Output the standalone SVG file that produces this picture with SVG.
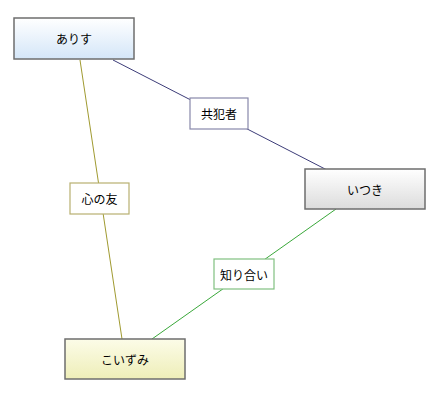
<svg xmlns="http://www.w3.org/2000/svg" width="445" height="412" viewBox="0 0 445 412">
<defs>
<linearGradient id="gBlue" x1="0" y1="0" x2="0" y2="1"><stop offset="0" stop-color="#ffffff"/><stop offset="1" stop-color="#d4e6f8"/></linearGradient>
<linearGradient id="gGrey" x1="0" y1="0" x2="0" y2="1"><stop offset="0" stop-color="#ffffff"/><stop offset="1" stop-color="#dcdcdc"/></linearGradient>
<linearGradient id="gYellow" x1="0" y1="0" x2="0" y2="1"><stop offset="0" stop-color="#fcfce8"/><stop offset="1" stop-color="#eeeeb8"/></linearGradient>
</defs>
<style>
.node{stroke:#6e6e6e;stroke-width:1.5}
.lbl{fill:#ffffff;stroke-width:1.2}
text{font-family:"Noto Sans CJK JP","Noto Sans",sans-serif;font-size:12px;fill:#000;text-anchor:middle;dominant-baseline:central}
</style>
<rect width="445" height="412" fill="#ffffff"/>
<g id="connectors" fill="none" stroke-width="1">
<line x1="113" y1="60" x2="327" y2="170" stroke="#3c3c78"/>
<line x1="80" y1="60" x2="122" y2="339" stroke="#a09a30"/>
<line x1="336" y1="209" x2="152" y2="339" stroke="#3aa83a"/>
</g>
<g id="label-kyohansha"><rect class="lbl" x="190" y="98" width="58" height="31" stroke="#8888aa"/><text x="219" y="113.5">共犯者</text></g>
<g id="label-kokoronotomo"><rect class="lbl" x="70" y="183" width="59" height="31" stroke="#b8b070"/><text x="99.5" y="198.5">心の友</text></g>
<g id="label-shiriai"><rect class="lbl" x="214" y="259" width="60" height="30" stroke="#80c080"/><text x="244" y="274">知り合い</text></g>
<g id="node-arisu"><rect class="node" x="14" y="18" width="120" height="41" fill="url(#gBlue)"/><text x="74" y="38.5">ありす</text></g>
<g id="node-itsuki"><rect class="node" x="305" y="169" width="120" height="40" fill="url(#gGrey)"/><text x="365" y="189">いつき</text></g>
<g id="node-koizumi"><rect class="node" x="65" y="339" width="120" height="40" fill="url(#gYellow)"/><text x="125" y="359">こいずみ</text></g>
</svg>
